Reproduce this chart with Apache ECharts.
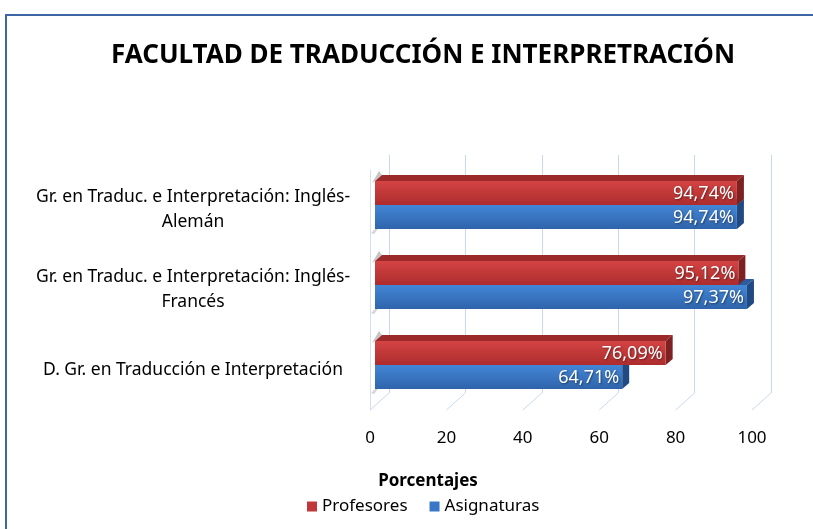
<!DOCTYPE html>
<html>
<head>
<meta charset="utf-8">
<script src="https://cdn.jsdelivr.net/npm/echarts@6/dist/echarts.min.js"></script>
<style>
  html, body { margin: 0; padding: 0; background: #fff; }
  #main { width: 813px; height: 529px; }
</style>
</head>
<body>
<div id="main"></div>
<script>
// datos del gráfico (de abajo hacia arriba)
var categorias = [
  'D. Gr. en Traducción e Interpretación',
  'Gr. en Traduc. e Interpretación: Inglés-Francés',
  'Gr. en Traduc. e Interpretación: Inglés-Alemán'
];
var profesores = [76.09, 95.12, 94.74];
var asignaturas = [64.71, 97.37, 94.74];
var ticks = [0, 20, 40, 60, 80, 100];

var FONT = '"Noto Sans", sans-serif';
var DX = 7, DY = -6; // profundidad 3D de las barras

function toRows(vals) {
  var out = [];
  for (var i = 0; i < vals.length; i++) out.push([i, vals[i]]);
  return out;
}

// dibuja una barra "3D": cara frontal, superior y lateral
function barra(arriba, colores) {
  return function (params, api) {
    var cat = api.value(0), val = api.value(1);
    var p0 = api.coord([0, cat]);
    var p1 = api.coord([val, cat]);
    var h = api.size([0, 1])[1] * 0.3;
    var yTop = arriba ? p1[1] - h : p1[1];
    var yBot = yTop + h;
    var x0 = p0[0], x1 = p1[0];
    var hijos = [
      { type: 'polygon', shape: { points: [[x0, yTop], [x0 + DX, yTop + DY], [x1 + DX, yTop + DY], [x1, yTop]] },
        style: { fill: colores.top } },
      { type: 'polygon', shape: { points: [[x1, yTop], [x1 + DX, yTop + DY], [x1 + DX, yBot + DY], [x1, yBot]] },
        style: { fill: colores.side } },
      { type: 'rect', shape: { x: x0, y: yTop, width: x1 - x0, height: h },
        style: { fill: new echarts.graphic.LinearGradient(0, 0, 0, 1, [
          { offset: 0, color: colores.light }, { offset: 1, color: colores.dark }]) } },
      { type: 'text', style: {
          text: val.toFixed(2).replace('.', ',') + '%',
          x: x1 - 3, y: yTop + h / 2 + 1, align: 'right', verticalAlign: 'middle',
          fill: '#fff', font: '18px ' + FONT,
          textShadowColor: 'rgba(0,0,0,0.45)', textShadowBlur: 2, textShadowOffsetX: 1, textShadowOffsetY: 1 } }
    ];
    if (arriba) {
      // sombra gris en la pared izquierda
      hijos.unshift({ type: 'polygon',
        shape: { points: [[x0 - 3, yTop + 2], [x0 + DX - 3, yTop + DY - 4], [x0 + DX, yTop + DY], [x0, yTop]] },
        style: { fill: 'rgba(90,90,90,0.35)' } });
    } else {
      hijos.unshift({ type: 'polygon',
        shape: { points: [[x0, yBot], [x0 - 4, yBot + 4], [x0 - 1, yBot + 5], [x0 + 3, yBot]] },
        style: { fill: 'rgba(90,90,90,0.25)' } });
    }
    return { type: 'group', children: hijos };
  };
}

var myChart = echarts.init(document.getElementById('main'));
var option = {
  animation: false,
  graphic: [{
    type: 'rect', shape: { x: 6, y: 15, width: 830, height: 540 },
    style: { fill: 'none', stroke: '#3e66a6', lineWidth: 2 }, z: 100
  }],
  title: [
    { text: 'FACULTAD DE TRADUCCIÓN E INTERPRETRACIÓN', left: 418, top: 38, textAlign: 'center',
      textStyle: { fontFamily: FONT, fontSize: 26, fontWeight: 'bold', color: '#000' } },
    { text: 'Porcentajes', left: 423, top: 468, textAlign: 'center',
      textStyle: { fontFamily: FONT, fontSize: 17, fontWeight: 'bold', color: '#000' } }
  ],
  legend: {
    data: ['Profesores', 'Asignaturas'],
    left: 302, top: 493,
    icon: 'rect', itemWidth: 10, itemHeight: 10, itemGap: 22,
    textStyle: { fontFamily: FONT, fontSize: 17, color: '#000' }
  },
  grid: [
    { left: 370, width: 382, top: 170, height: 240 },  // plano frontal (etiquetas)
    { left: 375, width: 382, top: 165, height: 240 },  // barras
    { left: 389, width: 382, top: 155, height: 238 }   // pared del fondo
  ],
  xAxis: [
    { gridIndex: 0, type: 'value', min: 0, max: 100, interval: 20,
      axisLine: { show: false }, axisTick: { show: false }, splitLine: { show: false },
      axisLabel: { margin: 20, fontFamily: FONT, fontSize: 17, color: '#000' } },
    { gridIndex: 1, type: 'value', min: 0, max: 100, interval: 20, show: false },
    { gridIndex: 2, type: 'value', min: 0, max: 100, interval: 20,
      axisLine: { show: false }, axisTick: { show: false }, axisLabel: { show: false },
      splitLine: { lineStyle: { color: '#c9d8ef', width: 1 } } }
  ],
  yAxis: [
    { gridIndex: 0, type: 'category', data: categorias,
      axisLine: { lineStyle: { color: '#d3dff1' } }, axisTick: { show: false },
      axisLabel: { margin: 177, align: 'center', lineHeight: 25, fontFamily: FONT, fontSize: 17.5, color: '#000',
        formatter: function (v) { return v.replace('Inglés-', 'Inglés-\n'); } } },
    { gridIndex: 1, type: 'category', data: categorias, show: false },
    { gridIndex: 2, type: 'value', show: false }
  ],
  series: [
    { // suelo: líneas diagonales del fondo al frente
      type: 'custom', xAxisIndex: 0, yAxisIndex: 0, silent: true,
      data: ticks,
      renderItem: function (params, api) {
        var x = api.coord([api.value(0), 0])[0];
        var yb = params.coordSys.y + params.coordSys.height;
        return { type: 'line', shape: { x1: x, y1: yb, x2: x + 19, y2: yb - 17 },
          style: { stroke: '#c9d8ef', lineWidth: 1 } };
      }
    },
    { name: 'Asignaturas', type: 'custom', xAxisIndex: 1, yAxisIndex: 1,
      itemStyle: { color: '#3a76c6' },
      encode: { x: 1, y: 0 },
      data: toRows(asignaturas),
      renderItem: barra(false, { light: '#4386d6', dark: '#2f64ab', top: '#2d5c9e', side: '#224a82' })
    },
    { name: 'Profesores', type: 'custom', xAxisIndex: 1, yAxisIndex: 1,
      itemStyle: { color: '#c0383a' },
      encode: { x: 1, y: 0 },
      data: toRows(profesores),
      renderItem: barra(true, { light: '#d44444', dark: '#ad2c2d', top: '#9c2a2b', side: '#7e2122' })
    }
  ]
};
myChart.setOption(option);
</script>
</body>
</html>
